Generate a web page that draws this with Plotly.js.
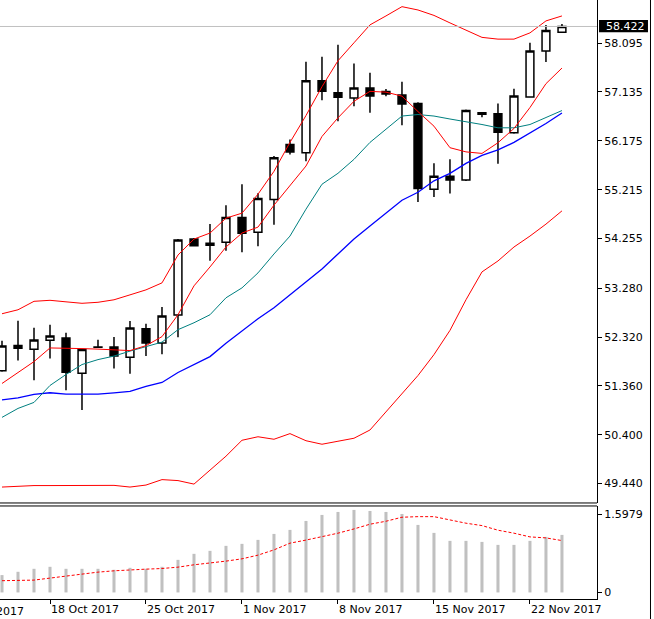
<!DOCTYPE html>
<html><head><meta charset="utf-8">
<script src="https://cdn.plot.ly/plotly-3.0.1.min.js"></script>
<style>html,body{margin:0;padding:0;background:#fff;overflow:hidden}</style>
</head><body><div id="chart" style="width:654px;height:619px"></div>
<script>
// ---- data ----
const dates = ["2017-10-15","2017-10-16","2017-10-17","2017-10-18","2017-10-19","2017-10-20",
  "2017-10-22","2017-10-23","2017-10-24","2017-10-25","2017-10-26","2017-10-27",
  "2017-10-29","2017-10-30","2017-10-31","2017-11-01","2017-11-02","2017-11-03",
  "2017-11-05","2017-11-06","2017-11-07","2017-11-08","2017-11-09","2017-11-10",
  "2017-11-12","2017-11-13","2017-11-14","2017-11-15","2017-11-16","2017-11-17",
  "2017-11-19","2017-11-20","2017-11-21","2017-11-22","2017-11-23","2017-11-24"];
const openP  = [51.656,52.152,52.079,52.255,52.302,51.609,52.118,52.126,51.923,52.484,52.204,52.752,54.246,54.122,54.181,54.670,54.377,55.022,56.105,55.942,57.357,57.122,57.018,57.214,57.142,57.077,56.907,55.224,55.478,55.406,56.725,56.705,56.334,57.038,57.938,58.310];
const highP  = [52.249,52.641,52.504,52.563,52.406,52.073,52.269,52.322,52.635,52.582,52.909,54.246,54.265,54.539,54.911,55.322,55.146,55.876,56.202,57.729,57.827,58.061,57.696,57.513,57.195,57.337,56.932,55.733,55.811,56.789,56.744,56.907,57.200,58.101,58.453,58.472];
const lowP   = [51.640,51.858,51.473,51.897,51.277,50.886,52.118,51.701,51.598,51.950,51.981,52.314,54.099,53.821,54.017,53.985,54.103,54.525,55.909,55.772,56.971,56.560,56.854,56.725,57.050,56.482,54.975,55.073,55.140,55.386,56.639,55.727,56.314,57.038,57.723,58.310];
const closeP = [52.145,52.099,52.263,52.341,51.629,52.073,52.126,51.950,52.498,52.204,52.733,54.226,54.115,54.162,54.670,54.357,55.042,55.844,55.954,57.357,57.147,57.030,57.214,57.058,57.097,56.901,55.238,55.478,55.406,56.770,56.697,56.345,57.058,57.938,58.341,58.422];
const upperBand = [52.778,52.856,53.022,53.042,53.012,52.983,53.003,53.052,53.149,53.247,53.384,53.932,54.245,54.363,54.656,54.754,55.126,55.576,56.144,56.672,57.239,57.748,58.101,58.453,58.629,58.811,58.746,58.639,58.492,58.355,58.208,58.173,58.173,58.296,58.531,58.629];
const lowerBand = [49.373,49.392,49.402,49.402,49.406,49.412,49.412,49.406,49.373,49.412,49.519,49.500,49.431,49.705,49.979,50.292,50.361,50.312,50.423,50.283,50.214,50.273,50.332,50.494,50.850,51.193,51.564,51.975,52.451,53.052,53.600,53.815,54.089,54.304,54.539,54.799];
const redMA   = [51.408,51.623,51.838,52.106,52.106,52.093,52.083,52.063,52.054,52.151,52.328,52.758,53.326,53.697,54.089,54.363,54.480,54.911,55.302,55.680,56.261,56.627,56.952,57.147,57.132,57.053,56.750,56.463,56.040,55.958,55.928,56.138,56.418,56.829,57.298,57.605];
const tealMA  = [50.742,50.918,51.036,51.369,51.584,51.780,51.877,51.946,52.044,52.132,52.220,52.465,52.601,52.758,53.091,53.286,53.580,53.952,54.304,54.832,55.322,55.537,55.811,56.144,56.398,56.662,56.692,56.662,56.604,56.555,56.496,56.431,56.431,56.496,56.633,56.770];
const blueMA  = [51.085,51.124,51.193,51.226,51.198,51.193,51.198,51.222,51.251,51.349,51.427,51.623,51.780,51.936,52.200,52.445,52.680,52.895,53.149,53.404,53.658,53.952,54.245,54.500,54.754,55.008,55.165,55.390,55.537,55.733,55.889,55.997,56.144,56.330,56.515,56.721];
const histValues   = [0.355,0.422,0.483,0.524,0.483,0.483,0.483,0.463,0.503,0.483,0.524,0.666,0.789,0.850,0.952,0.993,1.074,1.196,1.278,1.461,1.584,1.645,1.686,1.665,1.645,1.604,1.380,1.217,1.054,1.054,1.033,0.972,0.972,1.054,1.135,1.176];
const signalValues = [0.240,0.245,0.252,0.293,0.334,0.381,0.415,0.442,0.463,0.476,0.489,0.517,0.565,0.599,0.640,0.687,0.762,0.870,1.007,1.070,1.140,1.211,1.298,1.394,1.455,1.537,1.549,1.549,1.482,1.415,1.366,1.272,1.211,1.135,1.115,1.060];
const tickDates  = ["2017-10-18","2017-10-25","2017-11-01","2017-11-08","2017-11-15","2017-11-22"];
const tickLabels = ["18 Oct 2017","25 Oct 2017","1 Nov 2017","8 Nov 2017","15 Nov 2017","22 Nov 2017"];
const priceTicks = [49.440,50.400,51.360,52.320,53.280,54.255,55.215,56.175,57.135,58.095];
const priceTickText = ["49.440","50.400","51.360","52.320","53.280","54.255","55.215","56.175","57.135","58.095"];
const subTicks = [0, 1.5979];
const subTickText = ["0","1.5979"];
const lastPrice = 58.422;
const lastPriceText = "58.422";
const prevWeekLabel = "11 Oct 2017";

// ---- traces ----
const line = (y, color, extra) => Object.assign({type:'scatter', mode:'lines', x:dates, y:y, xaxis:'x', yaxis:'y',
  line:{color:color, width:1}, hoverinfo:'skip'}, extra||{});

const traces = [
  line(upperBand,'#ff0000'),
  line(lowerBand,'#ff0000'),
  line(blueMA,'#0000ff',{line:{color:'#0000ff',width:1.3}}),
  line(tealMA,'#008080'),
  line(redMA,'#ff0000'),
  {type:'candlestick', x:dates, open:openP, high:highP, low:lowP, close:closeP, xaxis:'x', yaxis:'y',
   increasing:{line:{color:'#000000',width:1.5}, fillcolor:'#ffffff'},
   decreasing:{line:{color:'#000000',width:1.5}, fillcolor:'#000000'},
   whiskerwidth:0, hoverinfo:'skip'},
  {type:'bar', x:dates, y:histValues, xaxis:'x', yaxis:'y2', width:0.19,
   marker:{color:'#c0c0c0', line:{width:0}}, hoverinfo:'skip'},
  {type:'scatter', mode:'lines', x:dates, y:signalValues, xaxis:'x', yaxis:'y2',
   line:{color:'#ff0000', width:1, dash:'3px,2px'}, hoverinfo:'skip'}
];

const F = {family:'DejaVu Sans, Tahoma, sans-serif', size:11, color:'#000'};
const layout = {
  width:654, height:619,
  margin:{l:0, r:57, t:0, b:20, pad:0},
  paper_bgcolor:'#ffffff', plot_bgcolor:'#ffffff',
  showlegend:false, font:F, dragmode:false,
  xaxis:{type:'category', categoryorder:'array', categoryarray:dates, range:[-0.125,37.19], anchor:'y2',
    showgrid:false, zeroline:false, showline:true, linecolor:'#000', linewidth:1,
    ticks:'outside', ticklen:4, tickcolor:'#000', tickwidth:1,
    tickvals:tickDates, ticktext:tickLabels, ticklabelposition:'outside right',
    tickfont:F, rangeslider:{visible:false}, fixedrange:true},
  yaxis:{domain:[0.1603,1], range:[49.06,58.942], side:'right', anchor:'x',
    showgrid:false, zeroline:false, showline:true, linecolor:'#000', linewidth:1,
    ticks:'outside', ticklen:4, tickcolor:'#000', tickwidth:1,
    tickvals:priceTicks, ticktext:priceTickText, tickfont:F, fixedrange:true},
  yaxis2:{domain:[0,0.1553], range:[-0.134,1.767], side:'right', anchor:'x',
    showgrid:false, zeroline:false, showline:true, linecolor:'#000', linewidth:1,
    ticks:'outside', ticklen:4, tickcolor:'#000', tickwidth:1,
    tickvals:subTicks, ticktext:subTickText, tickfont:F, fixedrange:true},
  shapes:[
    {type:'line', xref:'paper', yref:'y', x0:0, x1:1, y0:lastPrice, y1:lastPrice, line:{color:'#c0c0c0', width:1}},
    {type:'line', xref:'paper', yref:'paper', x0:0, x1:1, y0:0.1603, y1:0.1603, line:{color:'#000', width:1}},
    {type:'line', xref:'paper', yref:'paper', x0:0, x1:1, y0:0.1553, y1:0.1553, line:{color:'#000', width:1}},
    {type:'line', xref:'paper', yref:'paper', x0:1.0896, x1:1.0896, y0:-0.04, y1:1, line:{color:'#000', width:1}},
    {type:'rect', xref:'paper', yref:'paper', x0:1.0034, x1:1.0854, y0:0.9461, y1:0.9666, fillcolor:'#000', line:{width:0}}
  ],
  annotations:[
    {xref:'paper', yref:'y', x:1.0117, y:lastPrice, xanchor:'left', yanchor:'middle', text:lastPriceText,
     showarrow:false, font:{family:F.family, size:11, color:'#ffffff'}},
    {xref:'paper', yref:'paper', x:-0.0771, y:0, xanchor:'left', yanchor:'top', yshift:-4, text:prevWeekLabel,
     showarrow:false, font:F}
  ]
};
Plotly.newPlot('chart', traces, layout, {displayModeBar:false, staticPlot:true});
</script>
</body></html>
